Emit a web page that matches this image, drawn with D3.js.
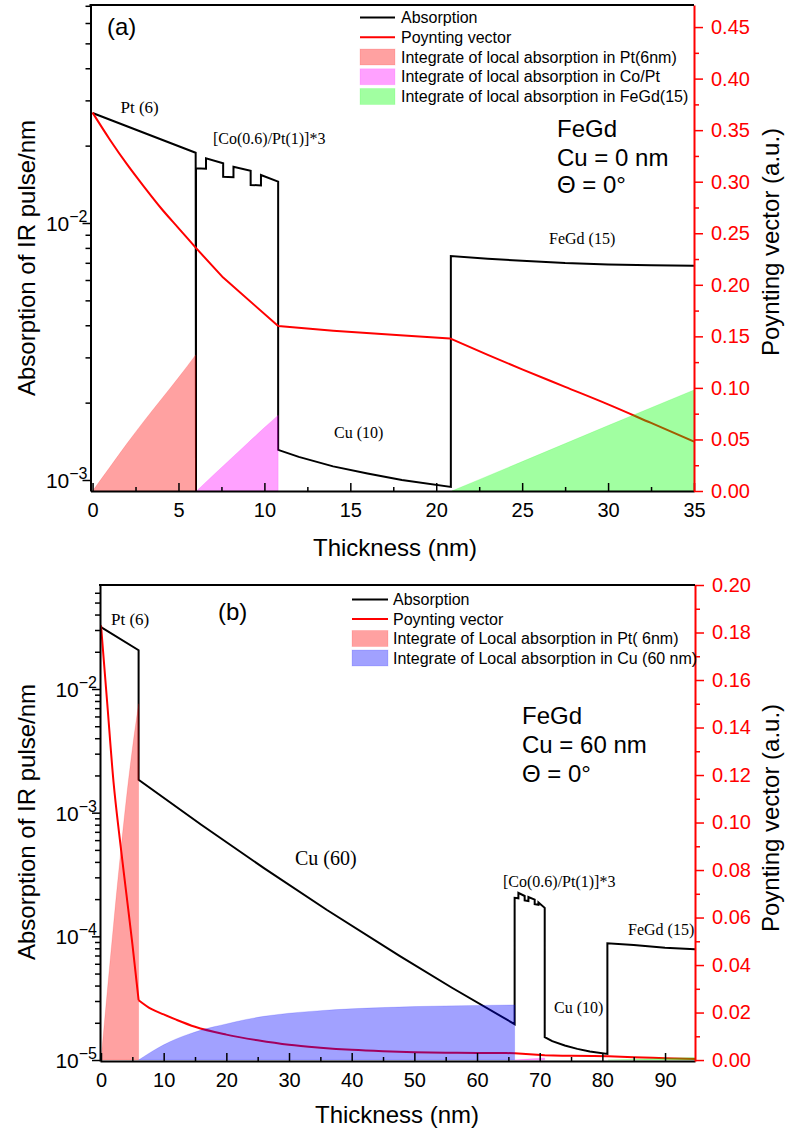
<!DOCTYPE html>
<html>
<head>
<meta charset="utf-8">
<script src="https://cdn.jsdelivr.net/npm/d3@7"></script>
<style>
  html, body { margin: 0; padding: 0; background: #fff; }
  svg { display: block; font-family: "Liberation Sans", Arial, sans-serif; }
  .serif { font-family: "Liberation Serif", "Times New Roman", serif; }
</style>
</head>
<body>
<svg id="chart" width="787" height="1133"></svg>
<script>
// ---------------- Panel (a): Cu = 0 nm ----------------
// Absorption of the IR pulse per nm: [thickness (nm), absorption/nm]; 0 marks the Pt / Co interface
const absorptionA = [
  [0, 0.0268], [6, 0.01877], [6.02, 0], [6.02, 0.01632], [6.6, 0.01625],
  [6.6, 0.01786], [7.6, 0.01707], [7.6, 0.01514], [8.2, 0.01508],
  [8.2, 0.01656], [9.2, 0.01597], [9.2, 0.01406], [9.8, 0.01400],
  [9.8, 0.01537], [10.8, 0.01448], [10.8, 0.00131], [12, 0.00123],
  [14, 0.00113], [16, 0.00106], [18, 0.00100], [20.85, 0.00094],
  [20.85, 0.00744], [23, 0.00726], [25, 0.00713], [27.5, 0.00698],
  [30, 0.00690], [32.5, 0.00685], [35, 0.00682]
];
// Poynting vector (a.u.)
const poyntingA = [
  [0, 0.367], [1, 0.341], [2, 0.317], [3, 0.295], [4, 0.274], [5, 0.255],
  [6, 0.236], [7.6, 0.207], [10.8, 0.160], [14, 0.1555],
  [17.9, 0.151], [20.8, 0.148], [23, 0.132], [25, 0.118], [27.5, 0.101],
  [30, 0.084], [32.5, 0.066], [35, 0.048]
];
// Layer interfaces (nm) where the Poynting vector changes slope
const interfacesA = [6, 7.6, 10.8, 20.8];
// Integrated local absorption per layer
const integralPtA = [[0, 0], [1, 0.023], [2, 0.046], [3, 0.068], [4, 0.089], [5, 0.110], [6, 0.132]];
const integralCoPtA = [[6.05, 0], [7, 0.0150], [8, 0.0305], [9, 0.0460], [10, 0.0615], [10.8, 0.0735]];
const integralFeGdA = [[20.9, 0], [25, 0.0285], [30, 0.0635], [35, 0.098]];

const xTicksA = [0, 5, 10, 15, 20, 25, 30, 35];
const xMinorA = [2.5, 7.5, 12.5, 17.5, 22.5, 27.5, 32.5];
const logTicksA = [-3, -2];
const rightTicksA = [0, 0.05, 0.10, 0.15, 0.20, 0.25, 0.30, 0.35, 0.40, 0.45];
const rightMinorA = [0.025, 0.075, 0.125, 0.175, 0.225, 0.275, 0.325, 0.375, 0.425];

// ---------------- Panel (b): Cu = 60 nm ----------------
const absorptionB = [
  [0, 0.0316], [6, 0.0206], [6, 0.001845], [16, 0.000798], [26, 0.000356],
  [36, 0.000164], [47.7, 0.0000693], [56, 0.0000384], [66, 0.0000195],
  [66, 0.000205], [66.6, 0.000203], [66.6, 0.000225], [67.6, 0.000212],
  [67.6, 0.000195], [68.2, 0.000193], [68.2, 0.000208], [69.2, 0.000198],
  [69.2, 0.000182], [69.8, 0.000180], [69.8, 0.000188], [70.8, 0.000170],
  [70.8, 0.0000153], [72, 0.0000142], [74, 0.0000131], [76, 0.0000123],
  [78, 0.0000117], [80.8, 0.0000112], [80.8, 0.000088], [85, 0.000085],
  [90, 0.000081], [94.8, 0.0000785]
];
const poyntingB = [
  [0, 0.183], [1, 0.150], [2, 0.117], [3, 0.093], [4, 0.071], [5, 0.049],
  [6, 0.0252], [8, 0.0215], [10, 0.0192], [12, 0.0170], [15, 0.0140],
  [20, 0.0107], [25, 0.0083], [30, 0.0064], [35, 0.0052], [40, 0.0043],
  [45, 0.0037], [50, 0.0033], [55, 0.0031], [60, 0.0030], [66, 0.0029],
  [70.8, 0.0020], [75, 0.0018], [80.8, 0.0016], [85, 0.0012], [90, 0.0008],
  [94.8, 0.0004]
];
const interfacesB = [6, 66, 70.8, 80.8];
const integralPtB = [[0, 0], [1, 0.029], [2, 0.057], [3, 0.084], [4, 0.109], [5, 0.131], [6, 0.150]];
const integralCuB = [
  [6, 0], [8, 0.0034], [10, 0.0064], [12, 0.0089], [14, 0.0109], [16, 0.0126],
  [18, 0.0140], [20, 0.0152], [23, 0.0170], [26, 0.0184], [30, 0.0197],
  [35, 0.0208], [40, 0.0216], [45, 0.0221], [50, 0.0225], [55, 0.0228],
  [60, 0.0230], [66, 0.0232]
];
const integralCoPtB = [[66, 0], [68, 0.0004], [70.8, 0.0009]];
const integralFeGdB = [[80.9, 0], [88, 0.0006], [94.8, 0.0011]];

const xTicksB = [0, 10, 20, 30, 40, 50, 60, 70, 80, 90];
const xMinorB = [5, 15, 25, 35, 45, 55, 65, 75, 85];
const logTicksB = [-5, -4, -3, -2];
const rightTicksB = [0, 0.02, 0.04, 0.06, 0.08, 0.10, 0.12, 0.14, 0.16, 0.18, 0.20];
const rightMinorB = [0.01, 0.03, 0.05, 0.07, 0.09, 0.11, 0.13, 0.15, 0.17, 0.19];

// ---------------- drawing ----------------
const RED = "#ff0000";
const PINK = "#ff0000", MAGENTA = "#ff00ff", GREEN = "#00ff00", BLUE = "#0000ff";
const FILL_OPACITY = 0.37;
const SANS = '"Liberation Sans", Arial, sans-serif';

const svg = d3.select("#chart");

function logMinors(domain) {
  const out = [];
  const lo = Math.floor(Math.log10(domain[0])), hi = Math.ceil(Math.log10(domain[1]));
  for (let e = lo; e <= hi; e++) {
    for (let m = 2; m <= 9; m++) {
      const v = m * Math.pow(10, e);
      if (v >= domain[0] && v <= domain[1]) out.push(v);
    }
  }
  return out;
}

// split a profile at layer interfaces so each layer is smoothed on its own
function splitAtInterfaces(points, cuts) {
  const pieces = [[]];
  points.forEach(pt => {
    pieces[pieces.length - 1].push(pt);
    if (cuts.includes(pt[0])) pieces.push([pt]);
  });
  return pieces.filter(s => s.length > 1);
}

function styleAxis(sel, color, width) {
  sel.attr("color", color).attr("font-size", 20).attr("font-family", SANS);
  sel.select(".domain").attr("stroke-width", width);
  sel.selectAll(".tick line").attr("stroke-width", 1.5);
}

function drawPanel(p) {
  const b = p.box;
  const g = svg.append("g");
  const x = d3.scaleLinear().domain(p.xDomain).range([b.left, b.right]);
  const yL = d3.scaleLog().domain(p.logDomain).range([b.bottom, b.top]);
  const yR = d3.scaleLinear().domain(p.rightDomain).range([b.bottom, b.top]);

  const clipId = "clip-" + p.id;
  g.append("clipPath").attr("id", clipId).append("rect")
    .attr("x", b.left).attr("y", b.top)
    .attr("width", b.right - b.left).attr("height", b.bottom - b.top);
  const plot = g.append("g").attr("clip-path", `url(#${clipId})`);

  // absorption (left, log scale)
  const absLine = d3.line()
    .x(d => x(d[0]))
    .y(d => d[1] > 0 ? yL(d[1]) : b.bottom + 4);
  plot.append("path").datum(p.absorption)
    .attr("d", absLine).attr("fill", "none")
    .attr("stroke", "#000").attr("stroke-width", 2);

  // Poynting vector (right scale), smooth inside each layer
  const redLine = d3.line().x(d => x(d[0])).y(d => yR(d[1])).curve(d3.curveMonotoneX);
  const redPath = splitAtInterfaces(p.poynting, p.interfaces).map(s => redLine(s)).join("");
  plot.append("path").attr("d", redPath).attr("fill", "none")
    .attr("stroke", RED).attr("stroke-width", 2).attr("stroke-linejoin", "round");

  // integrated absorption, translucent on top of the lines
  const area = d3.area().x(d => x(d[0])).y0(yR(0)).y1(d => yR(d[1])).curve(d3.curveMonotoneX);
  p.fills.forEach(f => {
    plot.append("path").datum(f.values).attr("d", area)
      .attr("fill", f.color).attr("fill-opacity", FILL_OPACITY)
      .attr("stroke", f.color).attr("stroke-opacity", 0.15).attr("stroke-width", 1);
  });

  // bottom axis (ticks pointing inward)
  const gx = g.append("g").attr("transform", `translate(0,${b.bottom})`)
    .call(d3.axisBottom(x).tickValues(p.xTicks).tickSize(-8).tickSizeOuter(0)
      .tickPadding(12).tickFormat(d3.format("d")));
  styleAxis(gx, "#000", 2);
  const gxm = g.append("g").attr("transform", `translate(0,${b.bottom})`)
    .call(d3.axisBottom(x).tickValues(p.xMinor).tickSize(-4).tickFormat(""));
  gxm.select(".domain").remove();
  gxm.selectAll(".tick line").attr("stroke-width", 1.5);

  // left log axis
  const decades = p.logTicks.map(e => Math.pow(10, e));
  const gy = g.append("g").attr("transform", `translate(${b.left},0)`)
    .call(d3.axisLeft(yL).tickValues(decades).tickSize(8).tickSizeOuter(0).tickFormat(""));
  styleAxis(gy, "#000", 2);
  const gym = g.append("g").attr("transform", `translate(${b.left},0)`)
    .call(d3.axisLeft(yL).tickValues(logMinors(p.logDomain)).tickSize(5).tickFormat(""));
  gym.select(".domain").remove();
  gym.selectAll(".tick line").attr("stroke-width", 1.5);
  p.logTicks.forEach(e => {
    const t = g.append("text")
      .attr("x", b.left - 3).attr("y", yL(Math.pow(10, e)) + 8)
      .attr("text-anchor", "end").attr("fill", "#000");
    t.append("tspan").attr("font-size", 21).text("10");
    t.append("tspan").attr("font-size", 16).attr("dy", -9).text("\u2212" + Math.abs(e));
  });

  // right axis (Poynting vector), red
  const gr = g.append("g").attr("transform", `translate(${b.right},0)`)
    .call(d3.axisRight(yR).tickValues(p.rightTicks).tickSize(9).tickSizeOuter(0)
      .tickPadding(8).tickFormat(d3.format(".2f")));
  styleAxis(gr, RED, 2);
  const grm = g.append("g").attr("transform", `translate(${b.right},0)`)
    .call(d3.axisRight(yR).tickValues(p.rightMinor).tickSize(5).tickFormat(""));
  grm.select(".domain").remove();
  grm.attr("color", RED).selectAll(".tick line").attr("stroke-width", 1.5);

  // top frame
  g.append("line").attr("x1", b.left - 1).attr("x2", b.right).attr("y1", b.top).attr("y2", b.top)
    .attr("stroke", "#000").attr("stroke-width", 2);

  // axis titles
  g.append("text").attr("transform", `translate(${p.leftTitle[0]},${p.leftTitle[1]}) rotate(-90)`)
    .attr("text-anchor", "middle").attr("font-size", 24).text("Absorption of IR pulse/nm");
  g.append("text").attr("transform", `translate(${p.rightTitle[0]},${p.rightTitle[1]}) rotate(-90)`)
    .attr("text-anchor", "middle").attr("font-size", 24).text("Poynting vector (a.u.)");
  g.append("text").attr("x", p.bottomTitle[0]).attr("y", p.bottomTitle[1])
    .attr("text-anchor", "middle").attr("font-size", 24).text("Thickness (nm)");

  // legend
  const L = p.legend;
  L.items.forEach((it, i) => {
    const cy = L.y + i * L.step;
    if (it.type === "line") {
      g.append("line").attr("x1", L.x1).attr("x2", L.x2).attr("y1", cy).attr("y2", cy)
        .attr("stroke", it.color).attr("stroke-width", 2);
    } else {
      g.append("rect").attr("x", L.x1).attr("y", cy - 8).attr("width", L.x2 - L.x1).attr("height", 16)
        .attr("fill", it.color).attr("fill-opacity", FILL_OPACITY)
        .attr("stroke", it.color).attr("stroke-opacity", 0.12);
    }
    g.append("text").attr("x", L.textX).attr("y", cy + 5.6).attr("font-size", 16).text(it.label);
  });

  // annotations
  p.notes.forEach(n => {
    const t = g.append("text").attr("x", n.x).attr("y", n.y).attr("font-size", n.size).text(n.text);
    if (n.serif) t.attr("class", "serif");
  });
}

drawPanel({
  id: "a",
  box: { left: 90.5, right: 694, top: 5, bottom: 491 },
  xDomain: [-0.12, 35],
  logDomain: [Math.pow(10, -3.0428), Math.pow(10, -1.1518)],
  rightDomain: [0, 0.4714],
  absorption: absorptionA,
  poynting: poyntingA,
  interfaces: interfacesA,
  fills: [
    { values: integralPtA, color: PINK },
    { values: integralCoPtA, color: MAGENTA },
    { values: integralFeGdA, color: GREEN }
  ],
  xTicks: xTicksA, xMinor: xMinorA, logTicks: logTicksA,
  rightTicks: rightTicksA, rightMinor: rightMinorA,
  leftTitle: [35, 258], rightTitle: [779, 242], bottomTitle: [395, 556],
  legend: {
    x1: 360, x2: 395, textX: 401, y: 17.5, step: 19.75,
    items: [
      { type: "line", color: "#000", label: "Absorption" },
      { type: "line", color: RED, label: "Poynting vector" },
      { type: "rect", color: PINK, label: "Integrate of local absorption in Pt(6nm)" },
      { type: "rect", color: MAGENTA, label: "Integrate of local absorption in Co/Pt" },
      { type: "rect", color: GREEN, label: "Integrate of local absorption in FeGd(15)" }
    ]
  },
  notes: [
    { text: "(a)", x: 107, y: 35, size: 24 },
    { text: "Pt (6)", x: 120.5, y: 113, size: 17, serif: true },
    { text: "[Co(0.6)/Pt(1)]*3", x: 213, y: 144, size: 16, serif: true },
    { text: "Cu (10)", x: 334, y: 438, size: 16, serif: true },
    { text: "FeGd (15)", x: 549, y: 244, size: 16, serif: true },
    { text: "FeGd", x: 557, y: 137, size: 24 },
    { text: "Cu = 0 nm", x: 557, y: 166, size: 24 },
    { text: "\u0398 = 0\u00B0", x: 557, y: 193, size: 24 }
  ]
});

drawPanel({
  id: "b",
  box: { left: 100, right: 695, top: 585, bottom: 1061 },
  xDomain: [-0.16, 94.78],
  logDomain: [Math.pow(10, -5.008), Math.pow(10, -1.159)],
  rightDomain: [-0.0004, 0.2],
  absorption: absorptionB,
  poynting: poyntingB,
  interfaces: interfacesB,
  fills: [
    { values: integralPtB, color: PINK },
    { values: integralCuB, color: BLUE },
    { values: integralCoPtB, color: MAGENTA },
    { values: integralFeGdB, color: GREEN }
  ],
  xTicks: xTicksB, xMinor: xMinorB, logTicks: logTicksB,
  rightTicks: rightTicksB, rightMinor: rightMinorB,
  leftTitle: [35, 822], rightTitle: [779, 818], bottomTitle: [397, 1123],
  legend: {
    x1: 352, x2: 388, textX: 393, y: 599.5, step: 19.5,
    items: [
      { type: "line", color: "#000", label: "Absorption" },
      { type: "line", color: RED, label: "Poynting vector" },
      { type: "rect", color: PINK, label: "Integrate of Local absorption in Pt( 6nm)" },
      { type: "rect", color: BLUE, label: "Integrate of Local absorption in Cu (60 nm)" }
    ]
  },
  notes: [
    { text: "(b)", x: 218, y: 620, size: 24 },
    { text: "Pt (6)", x: 111, y: 625, size: 17, serif: true },
    { text: "Cu (60)", x: 295, y: 865, size: 20, serif: true },
    { text: "[Co(0.6)/Pt(1)]*3", x: 503, y: 887, size: 16, serif: true },
    { text: "Cu (10)", x: 554, y: 1013, size: 16, serif: true },
    { text: "FeGd (15)", x: 628, y: 935, size: 16, serif: true },
    { text: "FeGd", x: 522, y: 724, size: 24 },
    { text: "Cu = 60 nm", x: 522, y: 753, size: 24 },
    { text: "\u0398 = 0\u00B0", x: 522, y: 782, size: 24 }
  ]
});
</script>
</body>
</html>
